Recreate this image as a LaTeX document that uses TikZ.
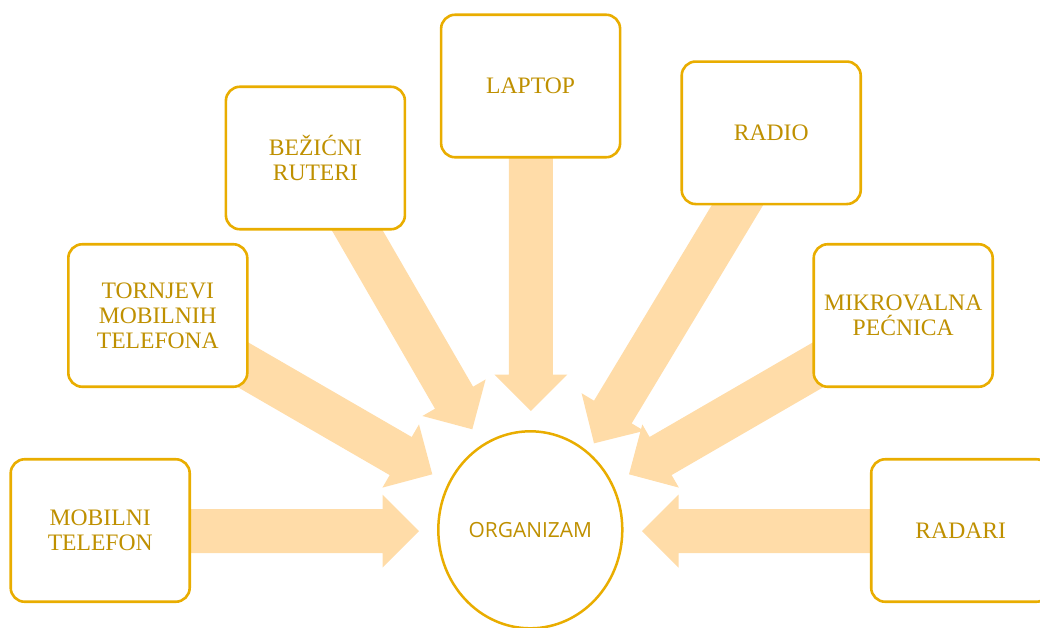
\documentclass[tikz,border=0pt]{standalone}
\usepackage{fontspec}
\setmainfont{Liberation Serif}
\newfontfamily\orgfont{Open Sans}
\usetikzlibrary{calc,backgrounds,shapes.geometric}
\definecolor{boxline}{HTML}{E9AD00}
\definecolor{txtcol}{HTML}{BF9000}
\definecolor{arrowfill}{HTML}{FFDCA8}
\newcommand\blkarrow[2]{%
  \coordinate (bah) at ($(#2)!36.5pt!(#1)$);
  \fill[arrowfill] ($(#1)!22pt!90:(#2)$) -- ($(bah)!22pt!-90:(#1)$) -- ($(bah)!36.5pt!-90:(#1)$) -- (#2) -- ($(bah)!36.5pt!90:(#1)$) -- ($(bah)!22pt!90:(#1)$) -- ($(#1)!22pt!-90:(#2)$) -- cycle;}
\begin{document}
\begin{tikzpicture}[x=1pt,y=-1pt,
  itembox/.style={draw=boxline, line width=2.6pt, fill=white, rounded corners=14pt,
    minimum width=179pt, minimum height=142.5pt, inner sep=0pt, align=center,
    text=txtcol, font=\fontsize{23.6}{25}\selectfont},
  organism/.style={draw=boxline, line width=2.5pt, fill=white, ellipse,
    minimum width=184pt, minimum height=197pt, inner sep=0pt,
    text=txtcol, font=\orgfont\fontsize{20.9}{24}\selectfont}]
\useasboundingbox (0,0) rectangle (1040,627);
\clip (0,0) rectangle (1040,627);
% boxes
\node[itembox] (mob)  at (100.2,530.5) {MOBILNI\\TELEFON};
\node[itembox] (tor)  at (157.8,315.5) {TORNJEVI\\MOBILNIH\\TELEFONA};
\node[itembox] (bez)  at (315.4,158)   {BEŽIĆNI\\RUTERI};
\node[itembox] (lap)  at (530.6,86)    {LAPTOP};
\node[itembox] (radio) at (771.2,132.8) {RADIO};
\node[itembox] (mik)  at (903.2,315.5) {MIKROVALNA\\PEĆNICA};
\node[itembox] (radr) at (960.7,530.5) {RADARI};
\node[organism] (org) at (530.3,529.8) {ORGANIZAM};
% arrow tips and starts
\coordinate (tmob) at (419,531);
\coordinate (smob) at (120,531);
\coordinate (tradr) at (642,531);
\coordinate (sradr) at (940,531);
\coordinate (tlap) at (530.8,411);
\coordinate (slap) at (530.8,100);
\coordinate (tbez) at (472.3,429.3);
\coordinate (ttor) at (432.3,474.3);
\coordinate (tmik) at (629,474.3);
\coordinate (tradio) at (594,443.3);
\coordinate (sradio) at (763.3,162.2);
\begin{scope}[on background layer]
  \blkarrow{smob}{tmob}
  \blkarrow{sradr}{tradr}
  \blkarrow{slap}{tlap}
  \blkarrow{bez.center}{tbez}
  \blkarrow{tor.center}{ttor}
  \blkarrow{mik.center}{tmik}
  \blkarrow{sradio}{tradio}
\end{scope}
\end{tikzpicture}
\end{document}
